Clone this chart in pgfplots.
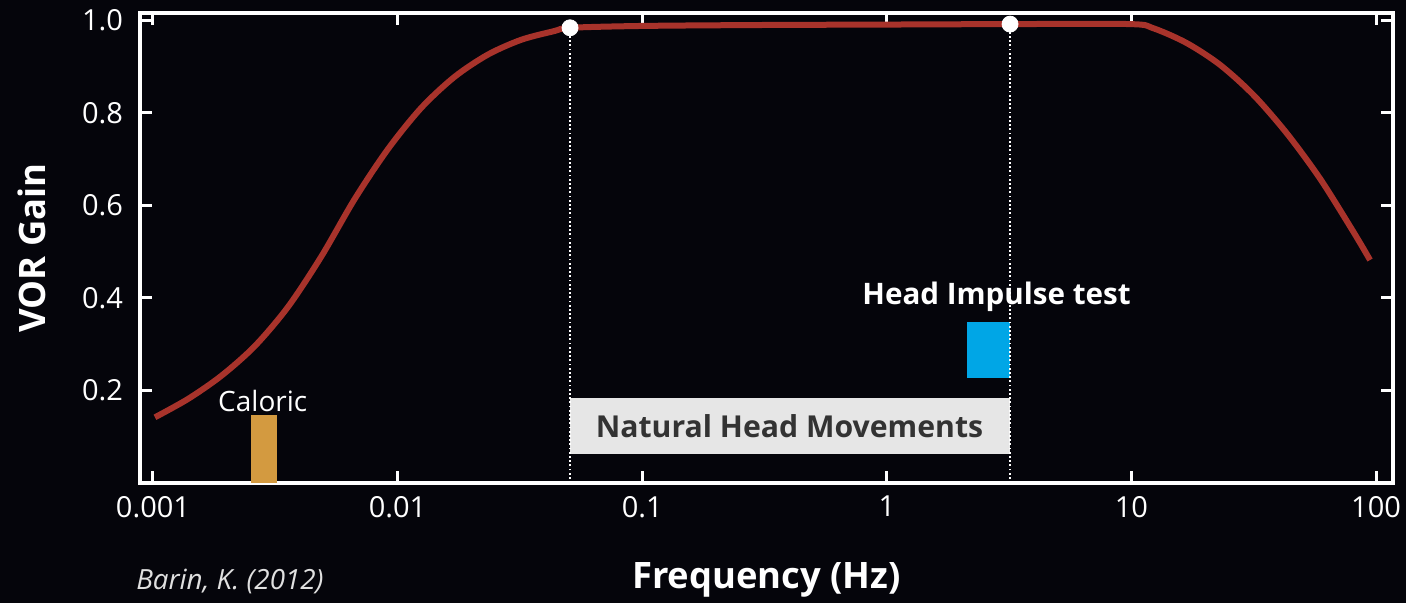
\documentclass[border=0pt]{standalone}
\usepackage{pgfplots}
\pgfplotsset{compat=1.18}
\usepackage{fontspec}
\setmainfont{Open Sans}
\definecolor{bg}{HTML}{05050B}
\definecolor{curve}{HTML}{A8332B}
\definecolor{calo}{HTML}{D39A40}
\definecolor{hit}{HTML}{00A6E6}
\definecolor{boxg}{HTML}{E6E6E6}
\definecolor{boxt}{HTML}{333333}
\begin{document}
\begin{tikzpicture}
\useasboundingbox (0,0) rectangle (703pt,301.5pt);
\fill[bg] (0,0) rectangle (703pt,301.5pt);
\begin{axis}[
 at={(70pt,60pt)}, anchor=south west, scale only axis,
 width=626.5pt, height=235pt,
 xmode=log, xmin=0.000885, xmax=117.3, ymin=0, ymax=1.016,
 xtick={0.001,0.01,0.1,1,10,100}, xticklabels={0.001,0.01,0.1,1,10,100},
 ytick={0.2,0.4,0.6,0.8,1.0}, yticklabels={0.2,0.4,0.6,0.8,1.0},
 xminorticks=false,
 tick align=inside, major tick length=6pt,
 axis line style={white, line width=1.8pt},
 tick style={white, line width=1.5pt},
 ticklabel style={white, font=\fontsize{14.5}{16}\selectfont},
 xticklabel style={yshift=-3pt},
 yticklabel style={xshift=-5pt},
 xlabel={Frequency (Hz)}, ylabel={VOR Gain},
 label style={white, font=\bfseries\fontsize{18.2}{21}\selectfont},
 xlabel style={at={(axis description cs:0.5,-0.206)}, anchor=center},
 ylabel style={at={(axis description cs:-0.0862,0.5)}, anchor=center},
 clip=false,
]
% boxes
\addplot[fill=boxg, draw=none] coordinates {(0.0507,0.062) (3.19,0.062) (3.19,0.183) (0.0507,0.183)} -- cycle;
\addplot[fill=hit, draw=none] coordinates {(2.13,0.226) (3.19,0.226) (3.19,0.347) (2.13,0.347)} -- cycle;
\addplot[fill=calo, draw=none] coordinates {(0.00252,0) (0.00321,0) (0.00321,0.146) (0.00252,0.146)} -- cycle;
% dotted lines
\addplot[white, line width=0.9pt, dash pattern=on 0.9pt off 1.2pt] coordinates {(0.0507,0) (0.0507,0.984)};
\addplot[white, line width=0.9pt, dash pattern=on 0.9pt off 1.2pt] coordinates {(3.19,0) (3.19,0.992)};
% curve
\addplot[curve, line width=3pt, smooth, tension=0.5] coordinates {
(0.001019,0.142) (0.001394,0.182) (0.001907,0.232) (0.002609,0.296) (0.003569,0.381)
(0.004883,0.490) (0.006680,0.614) (0.009140,0.722) (0.01250,0.811) (0.01710,0.878)
(0.02339,0.926) (0.03200,0.958) (0.04378,0.977) (0.0507,0.984) (0.1,0.988)
(0.3,0.990) (1,0.991) (3.19,0.992) (9.87,0.992) (12.29,0.983) (16.83,0.951)
(23.02,0.904) (31.51,0.839) (43.14,0.756) (59.03,0.658) (80.79,0.543) (94.5,0.482)};
% dots
\addplot[only marks, mark=*, mark options={fill=white, draw=white}, mark size=4pt] coordinates {(0.0507,0.984) (3.19,0.992)};
\node[text=boxt, font=\bfseries\fontsize{15.1}{17}\selectfont] at (axis cs:0.40,0.122) {Natural Head Movements};
\node[text=white, font=\bfseries\fontsize{14.8}{16}\selectfont] at (axis cs:2.81,0.403) {Head Impulse test};
\node[text=white, font=\fontsize{14}{16}\selectfont] at (axis cs:0.00281,0.178) {Caloric};
\node[text=white!88!black, font=\itshape\fontsize{13.9}{15}\selectfont] at (axis description cs:0.0718,-0.2106) {Barin, K. (2012)};
\end{axis}
\end{tikzpicture}
\end{document}
